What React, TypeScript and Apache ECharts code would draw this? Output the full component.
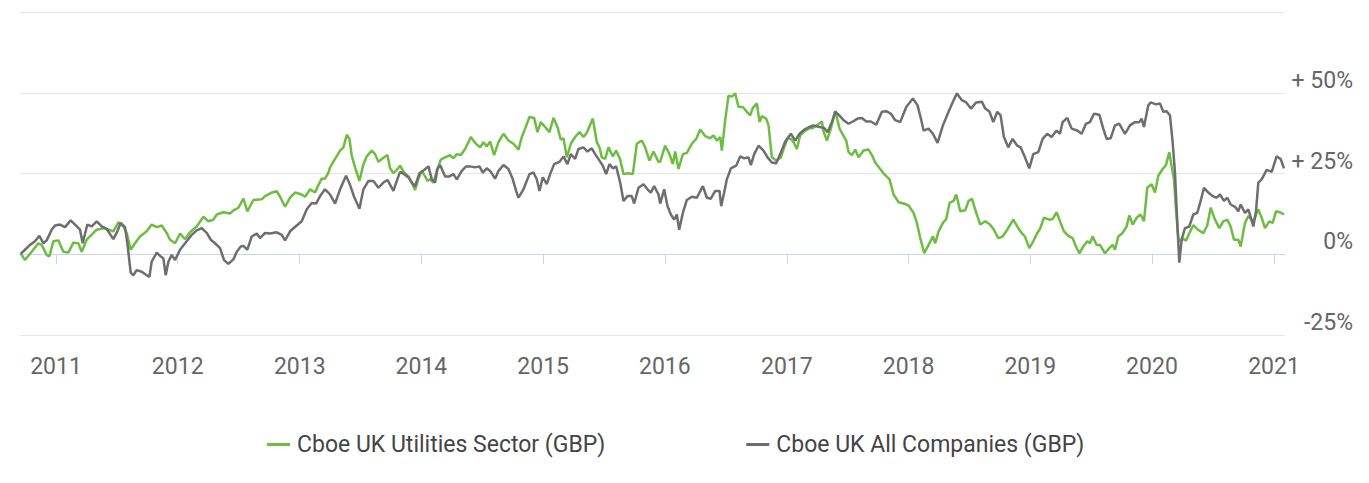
import React, { useEffect, useRef } from "react";
import * as echarts from "echarts";

// Dates are given as days after BASE_DATE (2011-01-01); values are % change.
const BASE_DATE = "2011-01-01";
const X_MIN_DAY = -108;
const X_MAX_DAY = 3686;

const SERIES_NAMES = ["Cboe UK Utilities Sector (GBP)", "Cboe UK All Companies (GBP)"];
const Y_TICKS = [-25, 0, 25, 50, 75];

const utilities: [number, number][] = [
  [-106,0.3],[-93,-1.8],[-73,0.8],[-53,3.4],[-43,2.9],[-28,-0.2],[-20,-0.7],[-8,4.0],[7,4.3],[22,0.8],[37,0.5],[52,3.6],[67,3.4],[77,0.8],[92,4.5],[122,7.6],[147,8.1],[172,7.1],[187,9.9],[202,8.6],[212,6.6],[224,1.4],[237,3.4],[252,5.5],[272,7.1],[287,9.2],[302,8.4],[317,8.9],[332,6.6],[342,4.5],[357,3.4],[372,6.4],[387,4.7],[402,6.8],[422,8.6],[442,11.6],[457,10.2],[472,10.7],[482,12.3],[502,13.0],[522,12.6],[532,13.6],[547,14.4],[562,17.2],[574,13.3],[592,16.8],[617,17.0],[627,18.0],[647,19.1],[662,19.5],[672,17.8],[687,14.7],[702,17.5],[717,19.1],[737,18.5],[747,17.8],[762,20.1],[777,19.1],[787,21.4],[797,23.4],[807,23.4],[817,25.3],
  [822,26.9],[837,29.5],[852,32.1],[862,33.1],[872,37.0],[880,35.7],[887,30.5],[897,26.9],[910,22.7],[922,27.9],[932,30.3],[947,32.1],[957,31.0],[967,28.6],[980,29.7],[994,30.7],[1002,26.6],[1012,25.1],[1022,26.1],[1032,27.4],[1044,25.3],[1057,24.1],[1067,22.2],[1077,19.9],[1087,23.4],[1097,25.8],[1107,24.1],[1114,22.7],[1122,23.2],[1132,22.2],[1144,26.4],[1154,29.3],[1167,30.0],[1182,30.7],[1192,29.7],[1202,31.0],[1214,30.7],[1227,32.6],[1237,34.7],[1244,36.3],[1257,34.5],[1272,33.1],[1282,34.7],[1292,33.4],[1302,34.9],[1314,30.7],[1327,34.7],[1342,37.3],[1357,35.2],[1372,34.2],[1387,32.4],[1397,36.3],[1407,38.9],[1420,42.5],[1434,42.2],[1444,37.8],[1454,40.9],[1467,39.4],[1480,37.8],[1492,42.2],[1504,39.4],[1514,35.5],[1522,35.9],[1532,30.0],[1544,34.2],[1557,36.3],[1570,37.8],[1582,36.3],[1592,37.6],[1610,42.0],[1622,34.7],[1630,33.1],[1637,30.0],[1647,29.5],[1657,33.1],[1670,30.3],[1680,32.1],[1692,29.3],[1702,24.8],[1717,25.1],[1730,24.8],[1742,34.2],[1757,35.2],[1767,33.1],[1780,29.0],[1792,31.8],[1807,28.6],
  [1812,28.6],[1827,33.6],[1840,31.0],[1850,27.9],[1857,31.8],[1867,26.4],[1880,31.0],[1892,31.4],[1907,34.2],[1920,35.7],[1932,38.6],[1947,36.6],[1962,35.9],[1972,36.8],[1982,35.2],[1992,36.3],[1997,32.1],[2007,41.5],[2017,49.1],[2027,48.8],[2037,49.8],[2047,45.6],[2060,45.6],[2072,44.1],[2082,43.0],[2090,45.3],[2102,46.7],[2110,40.9],[2117,42.8],[2130,42.0],[2137,39.9],[2147,30.0],[2160,29.0],[2174,30.0],[2184,33.1],[2194,35.9],[2204,35.7],[2212,34.7],[2222,32.6],[2232,36.8],[2244,38.0],[2257,38.9],[2270,39.1],[2282,39.9],[2297,41.1],[2302,38.0],[2312,35.2],[2324,38.9],[2337,44.3],[2350,38.9],[2360,37.0],[2370,35.2],[2377,31.6],[2387,30.7],[2397,32.4],[2407,30.0],[2422,32.1],[2437,32.4],[2447,30.7],[2457,28.4],[2472,26.4],[2484,24.8],[2500,23.2],[2512,18.5],[2527,16.1],[2542,15.7],[2557,15.1],[2572,12.8],[2582,9.7],[2592,5.0],[2604,0.3],[2617,2.9],[2630,5.5],[2637,3.4],[2647,7.1],[2660,9.7],[2670,10.9],[2680,15.9],[2692,16.5],[2700,18.5],[2712,13.3],[2727,13.6],[2737,16.5],[2747,17.2],[2760,12.8],[2772,9.2],[2787,10.2],
  [2801,9.2],[2813,7.6],[2826,5.0],[2839,5.5],[2853,7.6],[2871,10.7],[2883,8.6],[2896,6.6],[2906,5.5],[2919,1.9],[2931,4.0],[2943,6.6],[2951,7.8],[2963,11.3],[2979,10.7],[2989,10.9],[3001,13.0],[3013,9.7],[3023,7.1],[3036,5.7],[3049,5.0],[3059,2.4],[3069,0.3],[3081,2.4],[3093,4.0],[3101,3.4],[3109,5.5],[3121,2.9],[3131,2.9],[3146,0.3],[3159,1.9],[3169,2.9],[3176,1.4],[3186,5.5],[3199,6.6],[3211,8.6],[3219,12.0],[3229,9.2],[3241,11.3],[3253,12.3],[3263,10.2],[3273,20.6],[3286,21.7],[3296,19.1],[3306,24.3],[3319,26.4],[3329,27.6],[3339,31.6],[3346,27.2],[3353,23.2],[3359,13.9],[3366,5.0],[3373,4.0],[3381,4.8],[3389,4.2],[3399,6.5],[3411,9.0],[3426,7.5],[3441,6.5],[3453,9.0],[3463,14.4],[3476,10.7],[3489,8.1],[3501,10.2],[3513,10.7],[3523,8.6],[3533,4.5],[3546,4.5],[3553,2.4],[3566,9.7],[3576,11.8],[3591,10.2],[3606,13.9],[3616,11.3],[3626,8.1],[3639,10.2],[3649,9.7],[3659,13.3],[3671,13.0],[3683,12.3],
];

const allCompanies: [number, number][] = [
  [-106,0.1],[-93,1.4],[-78,2.9],[-63,4.0],[-50,5.7],[-38,3.4],[-28,4.3],[-13,7.6],[-3,8.9],[12,9.2],[27,8.4],[44,10.5],[57,9.2],[72,7.6],[80,3.4],[94,9.2],[107,8.6],[122,10.2],[137,8.6],[152,7.8],[172,4.7],[184,7.1],[194,9.7],[207,8.4],[214,3.4],[224,-5.7],[232,-6.5],[242,-4.9],[257,-5.4],[272,-6.5],[280,-7.0],[287,-2.3],[302,0.5],[312,-0.5],[322,-1.3],[329,-6.5],[337,-2.3],[347,-0.2],[357,-1.8],[372,1.4],[387,3.4],[407,6.0],[422,7.4],[437,8.1],[452,6.6],[464,4.5],[477,3.4],[492,1.9],[504,-1.8],[517,-3.0],[532,-1.6],[542,0.8],[554,2.4],[562,2.6],[574,1.4],[587,5.5],[602,6.4],[612,5.0],[627,6.6],[642,6.4],[662,6.8],[677,6.0],[687,4.3],[702,7.1],[722,8.9],[737,10.2],[752,13.9],[767,15.9],[780,15.7],[792,18.0],[807,20.1],
  [822,18.5],[837,15.7],[852,20.1],[870,24.3],[882,21.4],[894,17.8],[910,14.1],[922,20.1],[937,22.7],[952,22.7],[967,20.6],[982,22.2],[994,23.0],[1012,19.6],[1022,22.7],[1032,25.5],[1044,24.8],[1057,23.8],[1067,22.2],[1077,21.1],[1090,25.1],[1104,26.1],[1117,27.2],[1127,23.2],[1137,22.2],[1144,26.4],[1152,27.6],[1167,24.1],[1180,24.1],[1192,24.8],[1202,23.2],[1217,25.8],[1230,27.2],[1242,27.2],[1257,26.9],[1270,27.2],[1280,25.3],[1292,26.6],[1302,25.8],[1317,23.4],[1327,25.8],[1342,27.6],[1357,26.4],[1370,23.2],[1380,19.6],[1387,17.5],[1402,20.1],[1420,24.8],[1432,25.3],[1442,23.2],[1450,19.6],[1460,23.8],[1472,21.7],[1482,24.8],[1494,27.9],[1510,28.6],[1522,30.3],[1534,27.9],[1544,31.0],[1557,29.5],[1567,32.6],[1582,33.1],[1594,31.8],[1607,32.8],[1617,31.0],[1630,29.0],[1640,27.4],[1650,24.8],[1660,27.9],[1670,26.6],[1680,27.2],[1692,22.2],[1702,16.5],[1714,18.0],[1727,18.0],[1734,15.7],[1747,20.6],[1762,21.7],[1774,20.1],[1784,19.1],[1794,21.1],[1807,18.5],
  [1812,15.7],[1824,20.1],[1834,14.9],[1844,12.3],[1854,10.7],[1862,12.3],[1869,7.6],[1880,12.8],[1892,16.8],[1907,17.8],[1922,17.5],[1940,21.1],[1952,17.5],[1964,17.2],[1977,19.6],[1990,19.6],[1995,14.9],[2004,19.1],[2012,23.2],[2024,26.6],[2040,27.4],[2052,30.3],[2064,29.7],[2077,30.0],[2084,27.6],[2094,31.0],[2107,33.6],[2122,32.1],[2134,30.0],[2147,28.4],[2160,28.2],[2172,31.0],[2187,34.9],[2204,37.3],[2217,35.2],[2230,37.3],[2244,38.6],[2260,39.4],[2272,39.9],[2290,39.4],[2304,39.1],[2314,37.8],[2327,40.9],[2337,44.1],[2347,43.2],[2362,41.5],[2377,40.4],[2390,41.1],[2404,42.0],[2417,42.2],[2430,41.1],[2444,41.1],[2460,40.1],[2477,44.1],[2490,44.3],[2504,43.5],[2517,41.5],[2532,40.9],[2550,45.6],[2570,48.2],[2584,46.1],[2594,42.0],[2602,38.3],[2617,38.9],[2630,37.3],[2644,34.5],[2660,39.9],[2677,44.1],[2690,47.2],[2702,49.8],[2717,47.7],[2730,47.0],[2744,45.1],[2760,47.0],[2777,47.2],[2787,45.1],[2800,44.1],
  [2811,40.9],[2823,44.1],[2833,43.0],[2843,36.3],[2856,33.1],[2869,35.7],[2883,33.6],[2893,33.1],[2906,30.0],[2919,26.6],[2931,31.0],[2946,31.6],[2959,35.7],[2973,37.3],[2986,36.3],[3001,38.3],[3011,37.3],[3019,40.9],[3033,42.2],[3046,38.9],[3063,38.3],[3076,37.3],[3089,40.4],[3101,40.9],[3113,43.5],[3129,43.2],[3141,38.9],[3151,35.7],[3163,35.9],[3176,39.9],[3189,40.4],[3206,37.3],[3221,39.9],[3236,40.9],[3249,40.9],[3256,42.0],[3263,39.4],[3276,46.1],[3283,47.0],[3299,46.4],[3311,46.7],[3321,44.1],[3331,44.3],[3341,43.0],[3349,34.7],[3356,25.3],[3363,9.7],[3369,-2.6],[3376,4.5],[3386,8.1],[3399,8.6],[3411,12.3],[3423,12.8],[3433,16.5],[3443,20.6],[3456,19.1],[3469,18.0],[3481,17.5],[3491,18.5],[3503,16.5],[3513,17.5],[3523,15.4],[3536,14.7],[3546,13.3],[3553,15.4],[3566,12.8],[3576,13.9],[3591,8.6],[3599,13.3],[3606,22.2],[3616,23.2],[3631,26.1],[3646,25.5],[3661,30.3],[3673,29.5],[3683,26.6],
];

const DAY_MS = 86400000;
const BASE_MS = Date.parse(BASE_DATE + "T00:00:00Z");
const toTime = (d: number) => BASE_MS + d * DAY_MS;

const FONT = 'Roboto, "Liberation Sans", sans-serif';
const GREEN = "#6cbd42";
const GREY = "#6e6e6e";

export default function App() {
  const ref = useRef<HTMLDivElement>(null);
  useEffect(() => {
    if (!ref.current) return;
    const chart = echarts.init(ref.current, undefined, { renderer: "svg" });
    chart.setOption({
      animation: false,
      backgroundColor: "#ffffff",
      grid: { left: 20, right: 84, top: 12, bottom: 148, containLabel: false },
      xAxis: {
        type: "time",
        min: toTime(X_MIN_DAY),
        max: toTime(X_MAX_DAY),
        minInterval: 365 * DAY_MS,
        maxInterval: 366 * DAY_MS,
        axisLine: { show: true, lineStyle: { color: "#ccd6eb", width: 1 } },
        axisTick: { show: true, length: 10, lineStyle: { color: "#ccd6eb" } },
        splitLine: { show: false },
        axisLabel: {
          formatter: "{yyyy}",
          color: "#666666",
          fontSize: 23,
          fontFamily: FONT,
          margin: 20,
          showMinLabel: false,
          showMaxLabel: false,
        },
      },
      yAxis: {
        type: "value",
        position: "right",
        min: Y_TICKS[0],
        max: Y_TICKS[Y_TICKS.length - 1],
        interval: 25,
        axisLine: { show: false },
        axisTick: { show: false },
        splitLine: { show: true, lineStyle: { color: "#e6e6e6", width: 1 } },
        axisLabel: {
          formatter: (v: number) =>
            v === 75 ? "" : v > 0 ? "+ " + v + "%" : v + "%",
          align: "right",
          verticalAlign: "bottom",
          margin: 68,
          color: "#666666",
          fontSize: 23,
          fontFamily: FONT,
          padding: [0, 0, 1, 0],
        },
      },
      legend: {
        data: SERIES_NAMES,
        left: 262,
        top: 428,
        icon: "rect",
        itemWidth: 23,
        itemHeight: 3,
        itemGap: 141,
        textStyle: { fontSize: 23, color: "#444444", fontFamily: FONT, padding: [0, 0, 0, 2] },
      },
      series: [
        {
          name: SERIES_NAMES[0],
          type: "line",
          data: utilities.map(([d, v]) => [toTime(d), v]),
          showSymbol: false,
          color: GREEN,
          lineStyle: { width: 2.5, color: GREEN },
        },
        {
          name: SERIES_NAMES[1],
          type: "line",
          data: allCompanies.map(([d, v]) => [toTime(d), v]),
          showSymbol: false,
          color: GREY,
          lineStyle: { width: 2.5, color: GREY },
        },
      ],
    });
    return () => chart.dispose();
  }, []);
  return (
    <div
      ref={ref}
      style={{ position: "absolute", left: 0, top: 0, width: "1369px", height: "483px" }}
    />
  );
}
